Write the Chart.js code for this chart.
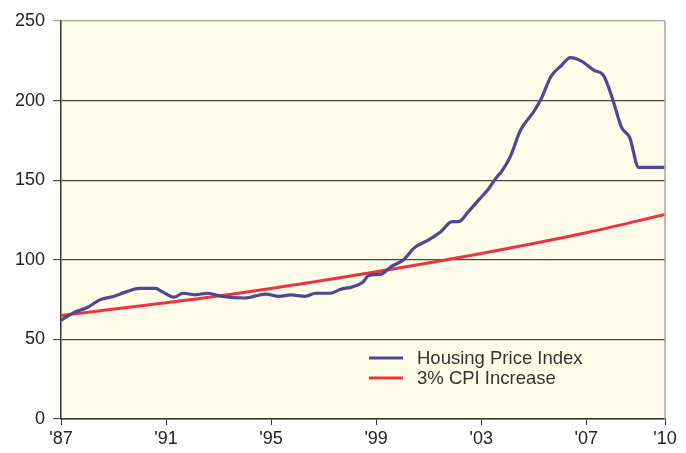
<!DOCTYPE html>
<html>
<head>
<meta charset="utf-8">
<script src="https://cdn.jsdelivr.net/npm/chart.js@4"></script>
<style>
  body { margin: 0; background: #fff; }
</style>
</head>
<body>
<canvas id="chart" width="686" height="453"></canvas>
<script>
// housing price index (decimal year, value)
const hpiYears = [1987.0, 1987.5, 1988.0, 1988.5, 1989.0, 1989.5, 1990.0, 1990.6, 1990.85, 1991.3,
  1991.65, 1992.1, 1992.6, 1993.15, 1994.0, 1994.8, 1995.3, 1995.75, 1996.3, 1996.7,
  1997.25, 1997.65, 1998.1, 1998.5, 1998.7, 1999.2, 1999.55, 2000.05, 2000.45, 2001.0,
  2001.45, 2001.9, 2002.15, 2002.5, 2002.9, 2003.3, 2003.55, 2003.8, 2004.1, 2004.5,
  2005.0, 2005.3, 2005.65, 2006.05, 2006.4, 2006.8, 2007.3, 2007.65, 2007.85, 2008.05,
  2008.35, 2008.65, 2009.0, 2010.0];
const hpiValues = [62, 67, 70, 75, 77, 80, 82, 82, 80, 76.5,
  79, 78, 79, 77, 76, 78.5, 77, 78, 77, 79,
  79, 81.5, 83, 86, 90, 91, 95.5, 100, 107.5, 112.5,
  117.5, 124, 124, 130, 137.5, 145, 151, 156, 164.5, 181.5,
  193, 201.6, 215, 222, 227, 225, 219, 216, 208.5, 198.5,
  183, 177, 158, 158];

// 3% CPI increase line
const cpiYears = [1987, 1991, 1995, 1999, 2003, 2007, 2010];
const cpiValues = [65, 73, 82, 92.5, 104, 117, 128.5];

const xTicks = [1987, 1991, 1995, 1999, 2003, 2007, 2010];
const yTicks = [0, 50, 100, 150, 200, 250];

const labels = ["Housing Price Index", "3% CPI Increase"];
const colors = ["#4b4993", "#ee3340"];

const hpiPoints = hpiYears.map((x, i) => ({ x: x, y: hpiValues[i] }));
const cpiPoints = cpiYears.map((x, i) => ({ x: x, y: cpiValues[i] }));

const fontFamily = "'Liberation Sans', Arial, sans-serif";

const plotBg = {
  id: "plotBg",
  beforeDraw(chart) {
    const a = chart.chartArea;
    const ctx = chart.ctx;
    ctx.save();
    ctx.fillStyle = "#fffde9";
    ctx.fillRect(a.left, a.top, a.right - a.left, a.bottom - a.top);
    ctx.restore();
  },
  afterDatasetsDraw(chart) {
    const a = chart.chartArea;
    const ctx = chart.ctx;
    ctx.save();
    ctx.strokeStyle = "#a8a8a0";
    ctx.lineWidth = 1.5;
    ctx.beginPath();
    ctx.moveTo(a.right, a.top);
    ctx.lineTo(a.right, a.bottom);
    ctx.stroke();

    // legend inside the plot
    ctx.font = "18.5px " + fontFamily;
    ctx.textBaseline = "middle";
    chart.data.datasets.forEach((ds, i) => {
      const y = 358 + i * 20;
      ctx.strokeStyle = ds.borderColor;
      ctx.lineWidth = 3;
      ctx.beginPath();
      ctx.moveTo(369, y);
      ctx.lineTo(403, y);
      ctx.stroke();
      ctx.fillStyle = "#333";
      ctx.fillText(ds.label, 417, y + 1);
    });
    ctx.restore();
  }
};

new Chart(document.getElementById("chart"), {
  type: "line",
  data: {
    datasets: [
      { label: labels[0], data: hpiPoints, borderColor: colors[0], borderWidth: 3.2, pointRadius: 0, cubicInterpolationMode: "monotone" },
      { label: labels[1], data: cpiPoints, borderColor: colors[1], borderWidth: 3, pointRadius: 0, cubicInterpolationMode: "monotone" }
    ]
  },
  options: {
    responsive: false,
    animation: false,
    layout: { padding: { top: 21, right: 21, left: 0, bottom: 0 } },
    plugins: {
      legend: { display: false },
      tooltip: { enabled: false }
    },
    scales: {
      x: {
        type: "linear",
        min: 1987,
        max: 2010,
        afterBuildTicks: (scale) => { scale.ticks = xTicks.map((v) => ({ value: v })); },
        afterFit: (scale) => { scale.height = 34; },
        ticks: {
          color: "#222",
          font: { family: fontFamily, size: 18 },
          padding: 3,
          maxRotation: 0,
          callback: (v) => "'" + String(v).slice(2)
        },
        grid: { drawOnChartArea: false, drawTicks: true, tickLength: 6, color: "#333" },
        border: { color: "#333", width: 1.5 }
      },
      y: {
        min: 0,
        max: 250,
        afterBuildTicks: (scale) => { scale.ticks = yTicks.map((v) => ({ value: v })); },
        afterFit: (scale) => { scale.width = 61; },
        ticks: {
          color: "#222",
          font: { family: fontFamily, size: 18 },
          padding: 8
        },
        grid: {
          color: (c) => (c.tick && c.tick.value === 250 ? "#a8a8a0" : "#4a4a3e"),
          lineWidth: 1.2,
          tickLength: 8
        },
        border: { color: "#333", width: 1.5 }
      }
    }
  },
  plugins: [plotBg]
});
</script>
</body>
</html>
